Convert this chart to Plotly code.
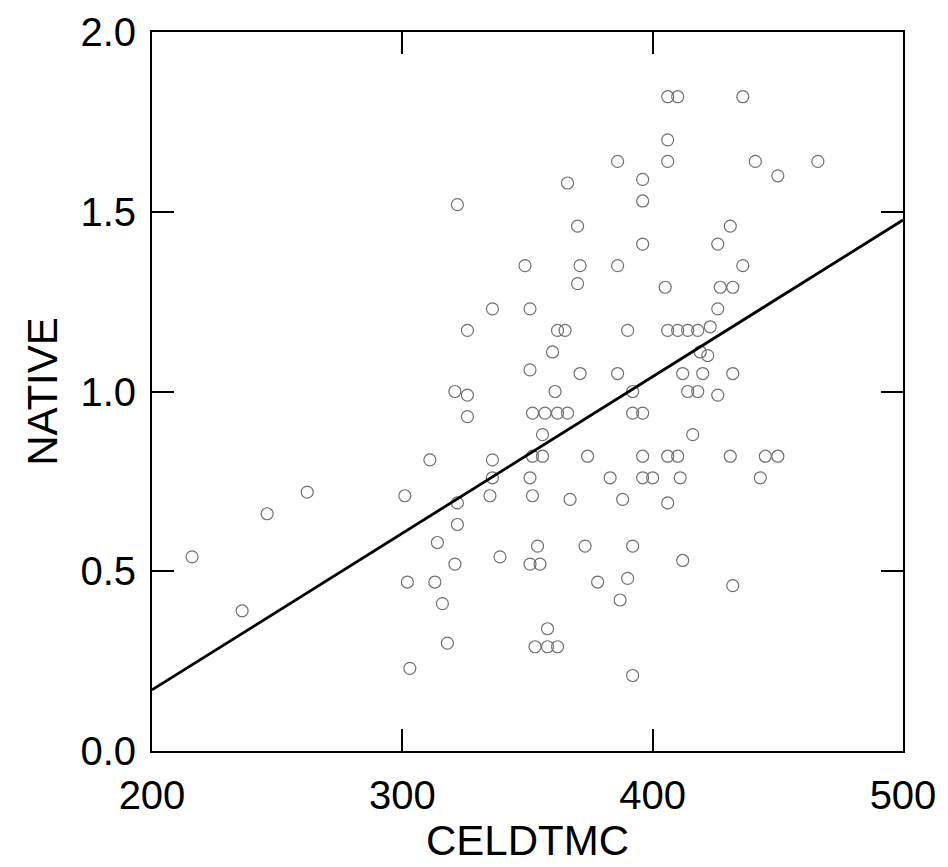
import plotly.graph_objects as go

# CELDTMC (x) and NATIVE (y) values
celdtmc = [
    406, 410, 436, 406, 386, 406, 441, 466, 450, 366,
    396, 396, 322, 370, 431, 396, 426, 349, 371, 386,
    436, 370, 405, 427, 432, 426, 351, 336, 326, 362,
    365, 390, 406, 410, 414, 418, 423, 360, 419, 422,
    351, 371, 386, 412, 420, 432, 361, 392, 414, 418,
    426, 321, 326, 326, 352, 357, 362, 366, 392, 396,
    356, 416, 311, 336, 352, 356, 374, 396, 406, 410,
    431, 445, 450, 336, 351, 383, 396, 400, 411, 443,
    301, 322, 335, 352, 367, 388, 406, 262, 246, 322,
    314, 354, 373, 392, 339, 216, 321, 351, 355, 412,
    302, 313, 378, 390, 432, 316, 387, 236, 358, 318,
    353, 358, 362, 303, 392,
]
native = [
    1.82, 1.82, 1.82, 1.70, 1.64, 1.64, 1.64, 1.64, 1.60, 1.58,
    1.59, 1.53, 1.52, 1.46, 1.46, 1.41, 1.41, 1.35, 1.35, 1.35,
    1.35, 1.30, 1.29, 1.29, 1.29, 1.23, 1.23, 1.23, 1.17, 1.17,
    1.17, 1.17, 1.17, 1.17, 1.17, 1.17, 1.18, 1.11, 1.11, 1.10,
    1.06, 1.05, 1.05, 1.05, 1.05, 1.05, 1.00, 1.00, 1.00, 1.00,
    0.99, 1.00, 0.99, 0.93, 0.94, 0.94, 0.94, 0.94, 0.94, 0.94,
    0.88, 0.88, 0.81, 0.81, 0.82, 0.82, 0.82, 0.82, 0.82, 0.82,
    0.82, 0.82, 0.82, 0.76, 0.76, 0.76, 0.76, 0.76, 0.76, 0.76,
    0.71, 0.69, 0.71, 0.71, 0.70, 0.70, 0.69, 0.72, 0.66, 0.63,
    0.58, 0.57, 0.57, 0.57, 0.54, 0.54, 0.52, 0.52, 0.52, 0.53,
    0.47, 0.47, 0.47, 0.48, 0.46, 0.41, 0.42, 0.39, 0.34, 0.30,
    0.29, 0.29, 0.29, 0.23, 0.21,
]

# fitted line, end points
fit_x = [200, 500]
fit_y = [0.17, 1.477]

x_ticks = [200, 300, 400, 500]
y_ticks = [0.0, 0.5, 1.0, 1.5, 2.0]

font = "Arial, Liberation Sans, Helvetica, sans-serif"

fig = go.Figure()
fig.add_trace(go.Scatter(
    x=celdtmc, y=native, mode="markers",
    marker=dict(symbol="circle-open", size=12, color="#707070",
                line=dict(width=1.2, color="#707070")),
    showlegend=False, hoverinfo="x+y",
))
fig.add_trace(go.Scatter(
    x=fit_x, y=fit_y, mode="lines",
    line=dict(color="black", width=2.8),
    showlegend=False, hoverinfo="skip",
))

axis_common = dict(
    showgrid=False, zeroline=False, automargin=False,
    showline=True, linecolor="black", linewidth=2, mirror="ticks",
    ticks="inside", ticklen=22, tickwidth=2, tickcolor="black",
    tickfont=dict(family=font, size=40, color="black"),
)

fig.update_xaxes(
    range=[200, 500], tickvals=x_ticks, ticktext=[str(v) for v in x_ticks],
    ticklabelstandoff=8,
    title=dict(text="CELDTMC", font=dict(family=font, size=42, color="black"), standoff=6),
    **axis_common,
)
fig.update_yaxes(
    range=[0, 2], tickvals=y_ticks, ticktext=["%.1f" % v for v in y_ticks],
    ticklabelstandoff=6,
    title=dict(text="NATIVE", font=dict(family=font, size=42, color="black"), standoff=10),
    **axis_common,
)

# the page body keeps its 8px default margin, so the figure is sized to fit after it
fig.update_layout(
    width=940, height=859,
    margin=dict(l=144, r=45, t=24, b=116),
    plot_bgcolor="white", paper_bgcolor="white",
)

fig.write_html("out.html")
